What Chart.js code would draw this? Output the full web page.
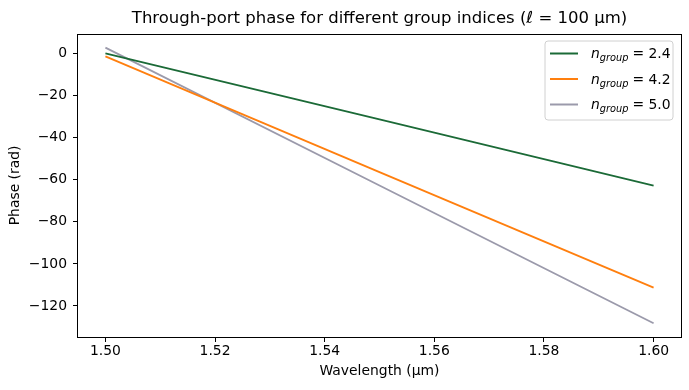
<!DOCTYPE html>
<html>
<head>
<meta charset="utf-8">
<script src="https://cdn.jsdelivr.net/npm/chart.js@4/dist/chart.umd.min.js"></script>
<style>
  html, body { margin: 0; padding: 0; background: #fff; }
  #wrap { width: 689px; height: 390px; }
</style>
</head>
<body>
<div id="wrap"><canvas id="chart1" width="689" height="390"></canvas></div>
<script>
// values
const wavelength = [1.50, 1.55, 1.60];
const phase24 = [0.2, -31.3, -62.7];
const phase42 = [-1.3, -56.3, -111.3];
const phase50 = [2.9, -62.7, -128.2];
const groupIndices = ['2.4', '4.2', '5.0'];
const xTicks = [1.50, 1.52, 1.54, 1.56, 1.58, 1.60];
const yTicks = [0, -20, -40, -60, -80, -100, -120];

const FONT = "'DejaVu Sans', sans-serif";
const FS = 13.9;

function toPoints(ys) {
    return wavelength.map((x, i) => ({x: x, y: ys[i]}));
}

// matplotlib-ish frame + legend with subscripts
const framePlugin = {
    id: 'frame',
    afterDraw(chart) {
        const ctx = chart.ctx;
        const a = chart.chartArea;
        ctx.save();
        ctx.strokeStyle = '#000';
        ctx.lineWidth = 1;
        ctx.strokeRect(Math.round(a.left) - 0.5, Math.round(a.top) + 0.5,
                       Math.round(a.right - a.left) + 1, Math.round(a.bottom - a.top));

        // legend
        const bx = 545, by = 41, bw = 128, bh = 79, r = 3;
        ctx.beginPath();
        ctx.moveTo(bx + r, by);
        ctx.arcTo(bx + bw, by, bx + bw, by + bh, r);
        ctx.arcTo(bx + bw, by + bh, bx, by + bh, r);
        ctx.arcTo(bx, by + bh, bx, by, r);
        ctx.arcTo(bx, by, bx + bw, by, r);
        ctx.closePath();
        ctx.fillStyle = 'rgba(255,255,255,0.8)';
        ctx.fill();
        ctx.strokeStyle = '#d0d0d0';
        ctx.stroke();

        chart.data.datasets.forEach((ds, i) => {
            const y = 53.5 + i * 25.5;
            ctx.strokeStyle = ds.borderColor;
            ctx.lineWidth = 2;
            ctx.beginPath();
            ctx.moveTo(550, y);
            ctx.lineTo(578, y);
            ctx.stroke();

            ctx.fillStyle = '#000';
            ctx.textBaseline = 'alphabetic';
            ctx.textAlign = 'left';
            let x = 591;
            const base = y + 4.5;
            ctx.font = 'italic 13.9px ' + FONT;
            ctx.fillText('n', x, base);
            x += ctx.measureText('n').width;
            ctx.font = 'italic 9.8px ' + FONT;
            ctx.fillText('group', x, base + 3);
            x += ctx.measureText('group').width + 4;
            ctx.font = '13.9px ' + FONT;
            ctx.fillText('= ' + groupIndices[i], x, base);
        });
        ctx.restore();
    }
};

const config = {
    type: 'line',
    data: {
        datasets: [{
            label: 'n_group = 2.4',
            borderColor: '#1b6a37',
            borderWidth: 1.8,
            radius: 0,
            data: toPoints(phase24),
        },
        {
            label: 'n_group = 4.2',
            borderColor: '#ff7f0e',
            borderWidth: 1.8,
            radius: 0,
            data: toPoints(phase42),
        },
        {
            label: 'n_group = 5.0',
            borderColor: '#9b9aab',
            borderWidth: 1.8,
            radius: 0,
            data: toPoints(phase50),
        }]
    },
    options: {
        responsive: false,
        animation: false,
        layout: {
            padding: {left: 0, right: 8, top: 0, bottom: 0}
        },
        interaction: {
            intersect: false
        },
        plugins: {
            legend: {display: false},
            tooltip: {enabled: false},
            title: {
                display: true,
                fullSize: false,
                text: 'Through-port phase for different group indices (ℓ = 100 µm)',
                color: '#000',
                font: {family: FONT, size: 16.5, weight: 'normal'},
                padding: {top: 9, bottom: 5}
            }
        },
        scales: {
            x: {
                type: 'linear',
                min: 1.495,
                max: 1.605,
                afterBuildTicks: (s) => { s.ticks = xTicks.map(v => ({value: v})); },
                afterFit: (s) => { s.height = 53; },
                ticks: {
                    color: '#000',
                    font: {family: FONT, size: FS},
                    padding: 1,
                    maxRotation: 0,
                    callback: (v) => v.toFixed(2)
                },
                grid: {display: true, drawOnChartArea: false, tickLength: 5, color: '#000'},
                border: {display: false},
                title: {
                    display: true,
                    text: 'Wavelength (µm)',
                    color: '#000',
                    font: {family: FONT, size: FS},
                    padding: {top: 0, bottom: 10}
                }
            },
            y: {
                type: 'linear',
                min: -134.76,
                max: 9.46,
                afterBuildTicks: (s) => { s.ticks = yTicks.map(v => ({value: v})); },
                afterFit: (s) => { s.width = 78; },
                ticks: {
                    color: '#000',
                    font: {family: FONT, size: FS},
                    padding: 6,
                    callback: (v) => String(v).replace('-', '\u2212')
                },
                grid: {display: true, drawOnChartArea: false, tickLength: 5, color: '#000'},
                border: {display: false},
                title: {
                    display: true,
                    text: 'Phase (rad)',
                    color: '#000',
                    font: {family: FONT, size: FS},
                    padding: {top: 7, bottom: 0}
                }
            }
        }
    },
    plugins: [framePlugin]
};

const ctx1 = document.getElementById('chart1').getContext('2d');
const chart1 = new Chart(ctx1, config);
</script>
</body>
</html>
